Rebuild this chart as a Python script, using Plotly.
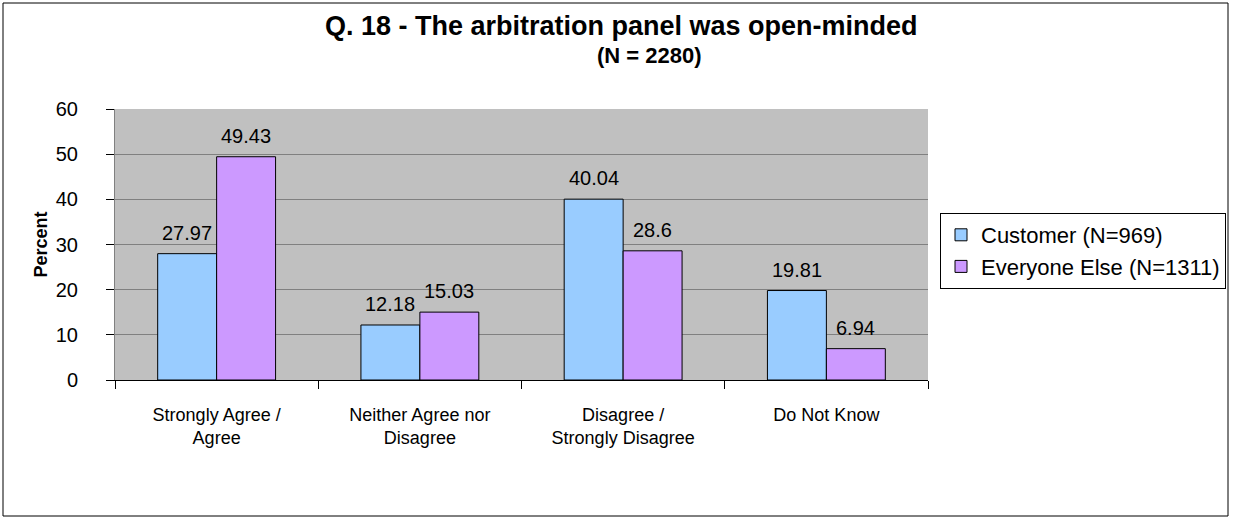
import plotly.graph_objects as go

categories = ["Strongly Agree /<br>Agree", "Neither Agree nor<br>Disagree",
              "Disagree /<br>Strongly Disagree", "Do Not Know"]
customer = [27.97, 12.18, 40.04, 19.81]
everyone_else = [49.43, 15.03, 28.6, 6.94]

W, H = 1233, 519
L, R, T, B = 115, 928, 109, 380
BAR_PX = 59  # approx bar width in pixels, used to centre value labels

fig = go.Figure()
fig.add_trace(go.Bar(
    x=categories, y=customer, name="Customer (N=969)",
    marker=dict(color="#99CCFF", line=dict(color="black", width=1)),
))
fig.add_trace(go.Bar(
    x=categories, y=everyone_else, name="Everyone Else (N=1311)",
    marker=dict(color="#CC99FF", line=dict(color="black", width=1)),
))


def px_x(p):
    return (p - L) / (R - L)


def px_y(p):
    return (B - p) / (B - T)


# value labels above each bar
for series, shift in ((customer, -BAR_PX / 2), (everyone_else, BAR_PX / 2)):
    for cat, v in zip(categories, series):
        fig.add_annotation(
            x=cat, y=v, xref="x", yref="y", text=str(v), showarrow=False,
            xanchor="center", yanchor="bottom", xshift=shift, yshift=8,
            font=dict(size=20, color="black"),
        )

fig.update_layout(
    width=W, height=H,
    margin=dict(l=L, r=W - R, t=T, b=H - B, autoexpand=False),
    paper_bgcolor="white", plot_bgcolor="#C0C0C0",
    font=dict(family="Liberation Sans, Arial", size=17, color="black"),
    barmode="group", bargap=0.42, bargroupgap=0,
    showlegend=True,
    legend=dict(x=940 / W, y=1 - 213 / H, xref="container", yref="container",
                xanchor="left", yanchor="top",
                bordercolor="black", borderwidth=1, bgcolor="white",
                font=dict(size=22), tracegroupgap=0, itemwidth=30),
)
fig.update_xaxes(
    showline=True, linecolor="black", linewidth=1,
    ticks="outside", ticklen=8, tickcolor="black", tickson="boundaries",
    tickfont=dict(size=18), ticklabelstandoff=18,
)
fig.update_yaxes(
    range=[0, 60], dtick=10, showgrid=True, gridcolor="#808080", gridwidth=1,
    showline=True, linecolor="#808080", linewidth=1,
    ticks="outside", ticklen=8, tickcolor="black",
    tickfont=dict(size=20), zeroline=False, ticklabelstandoff=24,
    title=dict(text="<b>Percent</b>", font=dict(size=18), standoff=3),
)

fig.add_annotation(
    text="<b>Q. 18 - The arbitration panel was open-minded</b>",
    xref="paper", yref="paper", x=px_x(621), y=px_y(26),
    xanchor="center", yanchor="middle", showarrow=False, font=dict(size=27),
)
fig.add_annotation(
    text="<b>(N = 2280)</b>",
    xref="paper", yref="paper", x=px_x(649), y=px_y(56),
    xanchor="center", yanchor="middle", showarrow=False, font=dict(size=22),
)

# outer chart frame
fig.add_shape(type="rect", xref="paper", yref="paper",
              x0=px_x(3), x1=px_x(1228), y0=px_y(516), y1=px_y(3),
              line=dict(color="black", width=1), fillcolor="rgba(0,0,0,0)",
              layer="below")

fig.write_html("out.html", config={"displayModeBar": False},
               post_script="document.body.style.margin='0';")
